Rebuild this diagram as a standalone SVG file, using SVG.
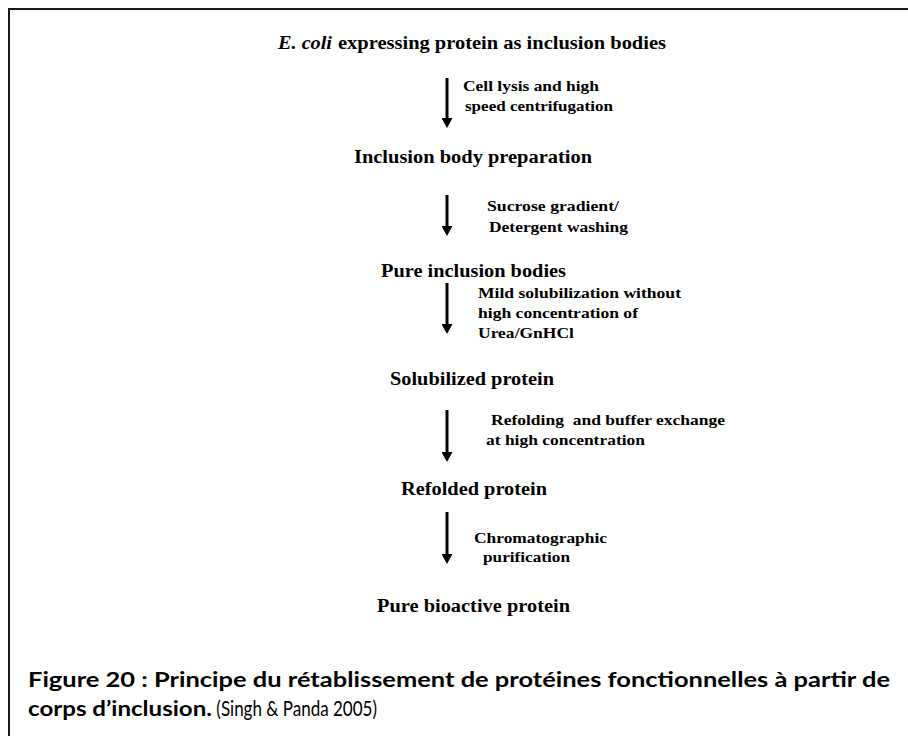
<svg xmlns="http://www.w3.org/2000/svg" width="908" height="736" viewBox="0 0 908 736">
<defs>
<style>
.node{font-family:"Liberation Serif","Times New Roman",serif;font-weight:bold;font-size:18px;fill:#000}
.lbl{font-family:"Liberation Serif","Times New Roman",serif;font-weight:bold;font-size:15px;fill:#000}
.cap{font-family:Lato,"Open Sans",sans-serif;font-size:20.5px;fill:#000}
.conn line{stroke:#000;stroke-width:3}
</style>
<marker id="ah" markerUnits="userSpaceOnUse" markerWidth="11" markerHeight="11" refX="0" refY="5.5" orient="auto" viewBox="0 0 11 11">
<path d="M0,0 L10,5.5 L0,11 Z" fill="#000"/>
</marker>
</defs>
<rect width="908" height="736" fill="#fff"/>
<path d="M9,736 V9 H908" fill="none" stroke="#1a1a1a" stroke-width="2"/>

<g id="n1"><text class="node" y="49"><tspan x="278" font-style="italic" textLength="54" lengthAdjust="spacingAndGlyphs">E. coli</tspan><tspan x="338" textLength="328" lengthAdjust="spacingAndGlyphs">expressing protein as inclusion bodies</tspan></text></g>
<g id="n2"><text class="node" x="354" y="163" textLength="238" lengthAdjust="spacingAndGlyphs">Inclusion body preparation</text></g>
<g id="n3"><text class="node" x="381" y="277" textLength="185" lengthAdjust="spacingAndGlyphs">Pure inclusion bodies</text></g>
<g id="n4"><text class="node" x="390" y="385" textLength="164" lengthAdjust="spacingAndGlyphs">Solubilized protein</text></g>
<g id="n5"><text class="node" x="401" y="495" textLength="146" lengthAdjust="spacingAndGlyphs">Refolded protein</text></g>
<g id="n6"><text class="node" x="377" y="612" textLength="193" lengthAdjust="spacingAndGlyphs">Pure bioactive protein</text></g>

<g id="connectors" class="conn">
<line x1="447" y1="78" x2="447" y2="118" marker-end="url(#ah)"/>
<line x1="447" y1="195" x2="447" y2="226" marker-end="url(#ah)"/>
<line x1="447" y1="283" x2="447" y2="324" marker-end="url(#ah)"/>
<line x1="447" y1="410" x2="447" y2="452" marker-end="url(#ah)"/>
<line x1="447" y1="512" x2="447" y2="554" marker-end="url(#ah)"/>
</g>

<g id="labels">
<text class="lbl" x="463" y="91" textLength="136" lengthAdjust="spacingAndGlyphs">Cell lysis and high</text>
<text class="lbl" x="465" y="111" textLength="148" lengthAdjust="spacingAndGlyphs">speed centrifugation</text>
<text class="lbl" x="487" y="211" textLength="132" lengthAdjust="spacingAndGlyphs">Sucrose gradient/</text>
<text class="lbl" x="489" y="232" textLength="139" lengthAdjust="spacingAndGlyphs">Detergent washing</text>
<text class="lbl" x="478" y="298" textLength="203" lengthAdjust="spacingAndGlyphs">Mild solubilization without</text>
<text class="lbl" x="478" y="318" textLength="160" lengthAdjust="spacingAndGlyphs">high concentration of</text>
<text class="lbl" x="478" y="338" textLength="96" lengthAdjust="spacingAndGlyphs">Urea/GnHCl</text>
<text class="lbl" x="491" y="425" textLength="234" lengthAdjust="spacingAndGlyphs" style="white-space:pre">Refolding  and buffer exchange</text>
<text class="lbl" x="486" y="445" textLength="159" lengthAdjust="spacingAndGlyphs">at high concentration</text>
<text class="lbl" x="474" y="543" textLength="133" lengthAdjust="spacingAndGlyphs">Chromatographic</text>
<text class="lbl" x="483" y="562" textLength="87" lengthAdjust="spacingAndGlyphs">purification</text>
</g>

<g id="caption">
<text class="cap" x="28" y="687" font-weight="bold" textLength="862" lengthAdjust="spacingAndGlyphs">Figure 20 : Principe du rétablissement de protéines fonctionnelles à partir de</text>
<text class="cap" x="28" y="716"><tspan font-weight="bold" textLength="184" lengthAdjust="spacingAndGlyphs">corps d’inclusion.</tspan><tspan textLength="165" lengthAdjust="spacingAndGlyphs"> (Singh &amp; Panda 2005)</tspan></text>
</g>
</svg>
